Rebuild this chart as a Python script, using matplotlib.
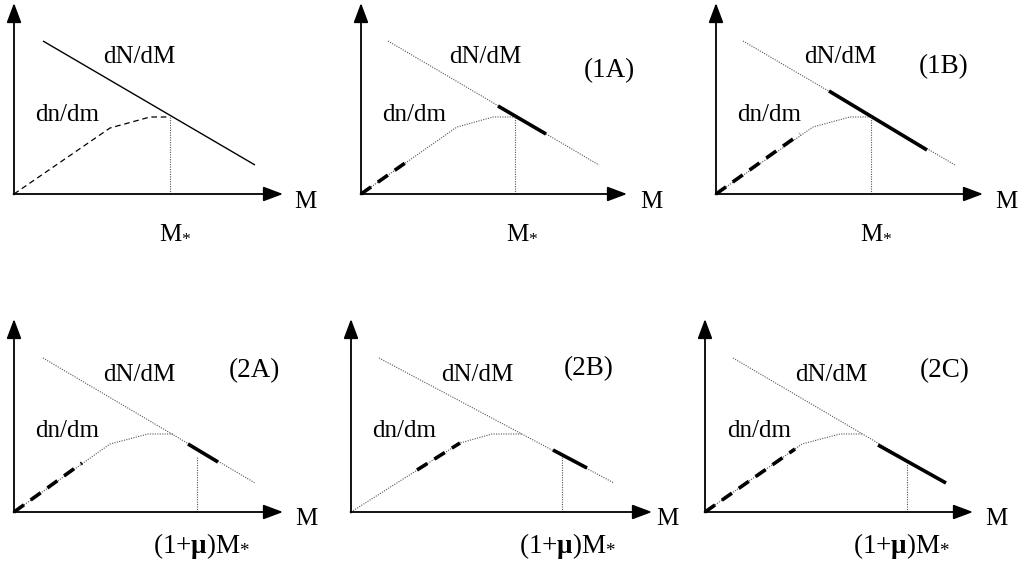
import matplotlib
matplotlib.use('Agg')
import matplotlib.pyplot as plt

plt.rcParams['font.family'] = ['Liberation Serif', 'DejaVu Serif']
plt.rcParams['mathtext.fontset'] = 'custom'
plt.rcParams['mathtext.rm'] = 'Liberation Serif'
plt.rcParams['mathtext.it'] = 'Liberation Serif:italic'
plt.rcParams['mathtext.bf'] = 'Liberation Serif:bold'

# ---------------- data (schematic units, origin at axes corner) ----------------
panel_labels = ['', '(1A)', '(1B)', '(2A)', '(2B)', '(2C)']
xaxis_len = [269, 266, 267, 269, 301, 268]
yaxis_len = [191, 191, 191, 193, 193, 193]

# dN/dM straight line: start and end points
dNdM_x = [[29, 241], [27, 238], [27, 239], [29, 241], [28, 263], [28, 241]]
dNdM_y = [[153, 29], [153, 29], [153, 29], [154, 29], [154, 29], [154, 29]]

# dn/dm broken line
dndm_x = [[0, 96, 136, 156], [0, 96, 132, 154], [0, 97, 134, 155],
          [0, 96, 134, 159], [0, 109, 141, 171], [0, 97, 135, 157]]
dndm_y = [[0, 66, 77, 77], [0, 67, 77, 77], [0, 67, 77, 77],
          [0, 68, 78, 78], [0, 69, 78, 78], [0, 68, 78, 78]]

# thick solid segment on dN/dM (None = absent)
thick_x = [None, [137, 185], [113, 211], [174, 204], [202, 236], [173, 241]]
thick_y = [None, [88, 60], [103, 44], [68, 50], [62, 44], [67, 29]]

# thick dashed segment on dn/dm
tdash_x = [None, [0, 47], [0, 84], [0, 68], [66, 109], [0, 90]]
tdash_y = [None, [0, 33], [0, 60], [0, 49], [42, 69], [0, 63]]

# vertical marker (M* or (1+mu)M*)
vline_x = [156, 154, 155, 183, 211, 202]
vline_top = [77, 77, 77, 56, 56, 48]
vline_label = [r'$\mathrm{M}_{*}$'] * 3 + [r'$\mathrm{(1{+}}\mathbf{\mu}\mathrm{)M}_{*}$'] * 3

# text anchor positions (baseline, centered)
txt_dNdM = [(125, 131), (124, 131), (124, 131), (125, 131), (126, 131), (126, 131)]
txt_dndm = [(53, 73), (53, 73), (53, 73), (53, 75), (53, 75), (54, 75)]
txt_lab = [None, (248, 117), (228, 121), (240, 135), (238, 137), (240, 135)]
txt_M = [(291, -14), (290, -14), (290, -14), (292, -13), (316, -13), (291, -13)]
txt_vl = [(161, -44), (161, -44), (160, -44), (188, -41), (217, -41), (197, -41)]

# ---------------- layout (pixel origins of each panel) ----------------
W, H = 1024, 563
origins = [(14, 194), (361, 194), (716, 194), (14, 512), (351, 512), (705, 512)]

fig = plt.figure(figsize=(W / 100, H / 100), dpi=100)
fig.patch.set_facecolor('white')

FS = 18
thin_col = '#555555'

for i, (ox, oy) in enumerate(origins):
    ax = fig.add_axes([(ox - 20) / W, (H - oy - 60) / H, 360 / W, 260 / H])
    ax.set_xlim(-20, 340)
    ax.set_ylim(-60, 200)
    ax.axis('off')
    ax.patch.set_alpha(0)

    # axes arrows
    ap = dict(arrowstyle='-|>,head_length=0.8,head_width=0.3', color='k',
              lw=1.3, shrinkA=0, shrinkB=0, mutation_scale=15)
    ax.annotate('', xy=(xaxis_len[i], 0), xytext=(-0.5, 0), arrowprops=ap)
    ax.annotate('', xy=(0, yaxis_len[i]), xytext=(0, -0.5), arrowprops=ap)

    if i == 0:
        ax.plot(dNdM_x[i], dNdM_y[i], color='k', lw=1.0, solid_capstyle='butt')
        ax.plot(dndm_x[i], dndm_y[i], color='k', lw=0.9, linestyle=(0, (4.5, 3)))
    else:
        ax.plot(dNdM_x[i], dNdM_y[i], color=thin_col, lw=0.8, linestyle=(0, (1, 1.2)))
        ax.plot(dndm_x[i], dndm_y[i], color=thin_col, lw=0.8, linestyle=(0, (1, 1.2)))
        ax.plot(thick_x[i], thick_y[i], color='k', lw=2.6, solid_capstyle='butt')
        ax.plot(tdash_x[i], tdash_y[i], color='k', lw=2.6,
                linestyle=(0, (3.4, 2.3)), dash_capstyle='butt')

    ax.plot([vline_x[i], vline_x[i]], [0, vline_top[i]], color=thin_col, lw=0.8,
            linestyle=(0, (1, 1.2)))

    ax.text(*txt_dNdM[i], 'dN/dM', fontsize=FS, ha='center', va='baseline')
    ax.text(*txt_dndm[i], 'dn/dm', fontsize=FS, ha='center', va='baseline')
    ax.text(*txt_M[i], 'M', fontsize=FS, ha='center', va='baseline')
    ax.text(*txt_vl[i], vline_label[i], fontsize=(FS if i < 3 else 19.5),
            ha='center', va='baseline')
    if txt_lab[i] is not None:
        ax.text(*txt_lab[i], panel_labels[i], fontsize=19.5, ha='center', va='baseline')

fig.savefig('out.png', dpi=100, facecolor='white')
